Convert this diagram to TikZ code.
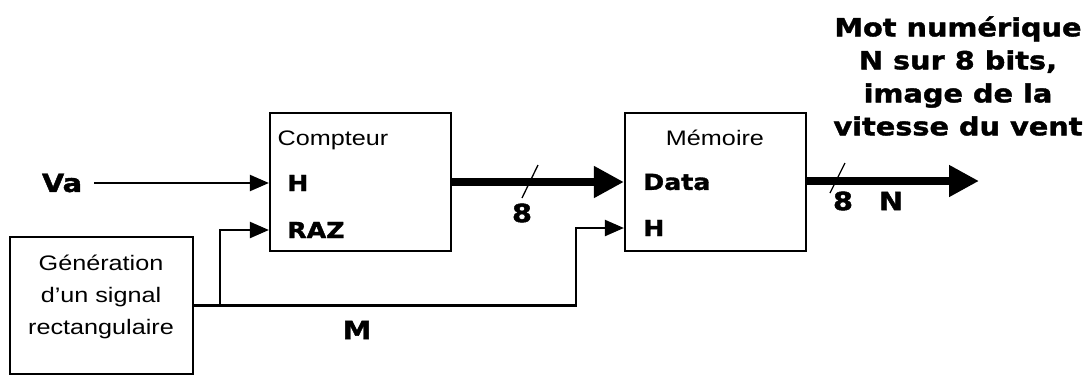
\documentclass[tikz,border=0pt]{standalone}
\usepackage{fontspec}
\setmainfont{Liberation Sans}[FakeStretch=1.2]
\newfontfamily\heavy{DejaVu Sans}[FakeStretch=1.15, BoldFeatures={FakeBold=1.6}]
\usetikzlibrary{arrows.meta}
\begin{document}
\begin{tikzpicture}[x=1pt,y=-1pt,
  box/.style={draw, line width=2.2pt, inner sep=0pt},
  sig/.style={line width=2.2pt, -{Triangle[length=19pt,width=16pt]}},
  bus/.style={line width=8pt, -{Triangle[length=30pt,width=30pt]}},
  tick/.style={line width=1.3pt},
  lbl/.style={font=\heavy\bfseries\fontsize{22}{26}\selectfont, inner sep=0pt},
  big/.style={font=\heavy\bfseries\fontsize{25}{33}\selectfont, inner sep=0pt},
  txt/.style={font=\fontsize{21}{32}\selectfont, inner sep=0pt}]
\useasboundingbox (0,0) rectangle (1085,376);
% blocks
\node[box, minimum width=181pt, minimum height=138pt] (cpt) at (360.5,182) {};
\node[box, minimum width=181pt, minimum height=138pt] (mem) at (715.5,182) {};
\node[box, minimum width=183pt, minimum height=137pt] (gen) at (101.5,305.5) {};
% texts in blocks
\node[txt] (tcpt) at (333,140) {Compteur};
\node[txt] (tmem) at (715,138) {Mémoire};
\node[txt, align=center] (tgen) at (101,297) {Génération\\d'un signal\\rectangulaire};
\node[lbl, anchor=west] (cH) at (287,183) {H};
\node[lbl, anchor=west] (raz) at (287,230) {RAZ};
\node[lbl, anchor=west] (data) at (643,182) {Data};
\node[lbl, anchor=west] (mH) at (643,228) {H};
% external labels
\node[big] (va) at (62,183) {Va};
\node[big] (M) at (357,330) {M};
\node[big] (b1) at (522,213) {8};
\node[big] (b2) at (843,201) {8};
\node[big] (N) at (891,201) {N};
\node[big, align=center] (mot) at (958,76) {Mot numérique\\N sur 8 bits,\\image de la\\vitesse du vent};
% connectors
\coordinate (j1) at (220,305.5);
\coordinate (c1) at (576,305.5);
\coordinate (out) at (979,181);
\draw[sig, shorten <=12pt] (va.east) -- (cpt.west |- cH);
\draw[sig] (gen.east) -- (c1) |- (mem.west |- mH);
\draw[sig] (j1) |- (cpt.west |- raz);
\draw[bus] (cpt.east |- data) -- (mem.west |- data);
\draw[bus] (mem.east |- out) -- (out);
% bus width ticks
\draw[tick] (522,198) -- (538,165);
\draw[tick] (830,193) -- (845,163);
\end{tikzpicture}
\end{document}
